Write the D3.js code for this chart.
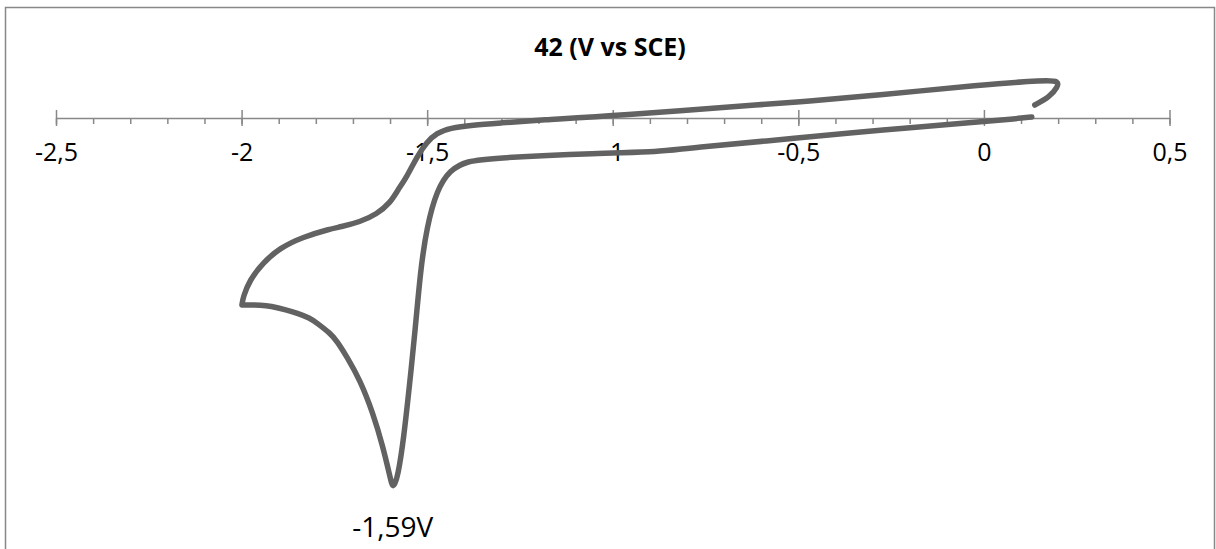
<!DOCTYPE html>
<html>
<head>
<meta charset="utf-8">
<script src="https://cdn.jsdelivr.net/npm/d3@7"></script>
<style>
  body { margin: 0; background: #fff; }
  text { font-family: "Open Sans", sans-serif; }
</style>
</head>
<body>
<div id="chart"></div>
<script>
// potential (V vs SCE)
const potential = [
  0.137, 0.177, 0.199, 0.201, 0.169, -0.011, -0.281, -0.496, -0.550, -1.000,
  -1.196, -1.304, -1.377, -1.439, -1.474, -1.501, -1.528, -1.555, -1.579, -1.600,
  -1.635, -1.681, -1.735, -1.762, -1.835, -1.897, -1.943, -1.978, -1.996, -1.999,
  -1.999, -1.999, -1.943, -1.924, -1.878, -1.851, -1.816, -1.797, -1.762, -1.743,
  -1.716, -1.681, -1.646, -1.619, -1.600, -1.592, -1.579, -1.563, -1.547, -1.533,
  -1.518, -1.501, -1.474, -1.439, -1.393, -1.323, -1.035, -0.873, -0.801, -0.496,
  -0.281, -0.011, 0.077, 0.129
];
// current, arbitrary units (no y axis in the picture)
const current = [
  1.3, 2.1, 3.1, 3.7, 3.8, 3.3, 2.3, 1.6, 1.5, 0.2,
  -0.2, -0.5, -0.7, -1.0, -1.5, -2.4, -3.9, -5.9, -7.2, -8.5,
  -9.6, -10.4, -10.9, -11.1, -11.9, -13.0, -14.5, -16.2, -17.9, -18.7,
  -18.7, -18.7, -18.7, -18.8, -19.2, -19.5, -20.0, -20.5, -21.5, -22.3,
  -23.9, -26.2, -29.5, -32.9, -35.9, -37.2, -35.9, -32.0, -26.5, -21.5,
  -15.2, -10.9, -7.2, -5.2, -4.3, -4.0, -3.5, -3.4, -3.0, -2.0,
  -1.2, -0.4, -0.1, 0.1
];
const majorTicks = [-2.5, -2, -1.5, -1, -0.5, 0, 0.5];
const minorTicks = d3.range(-25, 6).map(d => d / 10);
const title = "42 (V vs SCE)";
const peakLabel = { v: -1.59, i: -36.8, text: "-1,59V" };

const W = 1216, H = 549;
const svg = d3.select("#chart").append("svg")
  .attr("width", W).attr("height", H);

svg.append("rect")
  .attr("x", 5.5).attr("y", 7.5)
  .attr("width", 1209).attr("height", 560)
  .attr("fill", "none").attr("stroke", "#888").attr("stroke-width", 1.5);

const x = d3.scaleLinear().domain([-2.5, 0.5]).range([56, 1169.5]);
const y = d3.scaleLinear().domain([-43, 11]).range([548, 8]);

// axis sits on zero current
const axisG = svg.append("g").attr("transform", `translate(0,${y(0)})`);

axisG.append("g")
  .call(d3.axisBottom(x).tickValues(minorTicks).tickSize(6).tickFormat(""))
  .call(g => g.select(".domain").remove())
  .selectAll("line").attr("stroke", "#888").attr("stroke-width", 1.5);

axisG.append("g")
  .call(d3.axisBottom(x).tickValues(majorTicks).tickSizeOuter(0).tickSizeInner(8)
    .tickFormat(d => String(d).replace(".", ",")))
  .call(g => g.select(".domain").attr("stroke", "#888").attr("stroke-width", 1.5))
  .call(g => g.selectAll(".tick line").attr("y1", -8).attr("stroke", "#888").attr("stroke-width", 1.5))
  .call(g => g.selectAll(".tick text")
    .attr("y", 43).attr("dy", null)
    .attr("fill", "#000").attr("font-size", 25)
    .attr("font-family", "'Open Sans', sans-serif"));

// basis smoothing; the cusp at -2 V is repeated so it stays sharp
const pts = potential.map((v, i) => [v, current[i]]);
svg.append("path")
  .datum(pts)
  .attr("fill", "none")
  .attr("stroke", "#626262")
  .attr("stroke-width", 5.5)
  .attr("stroke-linejoin", "round")
  .attr("stroke-linecap", "round")
  .attr("d", d3.line().x(d => x(d[0])).y(d => y(d[1])).curve(d3.curveBasis));

svg.append("text")
  .attr("x", 610).attr("y", 56)
  .attr("text-anchor", "middle")
  .attr("font-weight", "bold").attr("font-size", 25)
  .text(title);

svg.append("text")
  .attr("x", x(peakLabel.v) - 1).attr("y", y(peakLabel.i) + 51)
  .attr("text-anchor", "middle")
  .attr("font-size", 28)
  .text(peakLabel.text);
</script>
</body>
</html>
